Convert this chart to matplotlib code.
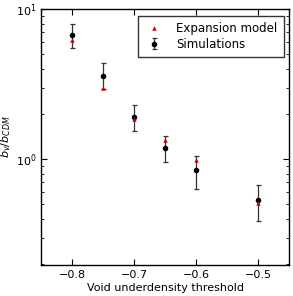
import matplotlib
matplotlib.use('Agg')
import matplotlib.pyplot as plt

# void underdensity thresholds
thresholds = [-0.8, -0.75, -0.7, -0.65, -0.6, -0.5]
# expansion model bias ratio
model_bias = [6.27, 2.99, 1.85, 1.34, 0.99, 0.51]
# simulation bias ratio with errors
sim_bias = [6.74, 3.59, 1.92, 1.19, 0.84, 0.53]
sim_err_lo = [1.24, 0.66, 0.37, 0.235, 0.21, 0.144]
sim_err_hi = [1.20, 0.77, 0.37, 0.24, 0.21, 0.144]

plt.rcParams.update({
    'font.size': 8,
    'xtick.direction': 'in',
    'ytick.direction': 'in',
    'xtick.top': True,
    'ytick.right': True,
    'xtick.major.size': 4,
    'ytick.major.size': 4,
    'xtick.minor.size': 2,
    'ytick.minor.size': 2,
    'axes.linewidth': 1.0,
})

fig, ax = plt.subplots(figsize=(2.93, 2.96), dpi=100)
ax.plot(thresholds, model_bias, '^', color='#c00000', markersize=3.2,
        markeredgewidth=0, label='Expansion model', zorder=4)
ax.errorbar(thresholds, sim_bias, yerr=[sim_err_lo, sim_err_hi], fmt='o',
            color='k', markersize=3, ecolor='#333333', elinewidth=0.9,
            capsize=1.8, capthick=0.9, label='Simulations', zorder=3)
ax.set_yscale('log')
ax.set_xlim(-0.85, -0.45)
ax.set_ylim(0.197, 10)
ax.set_xticks([-0.8, -0.7, -0.6, -0.5])
ax.set_xlabel('Void underdensity threshold', labelpad=2)
ax.set_ylabel(r'$b_v/b_{CDM}$', labelpad=2)
ax.legend(loc='upper right', bbox_to_anchor=(0.979, 0.974), numpoints=1,
          fancybox=False, framealpha=1, edgecolor='#333333', fontsize=8.5,
          borderaxespad=0, borderpad=0.55, handletextpad=1.1,
          handlelength=1.6, labelspacing=0.2)

fig.subplots_adjust(left=0.141, right=0.987, top=0.969, bottom=0.105)
plt.savefig('out.png')
